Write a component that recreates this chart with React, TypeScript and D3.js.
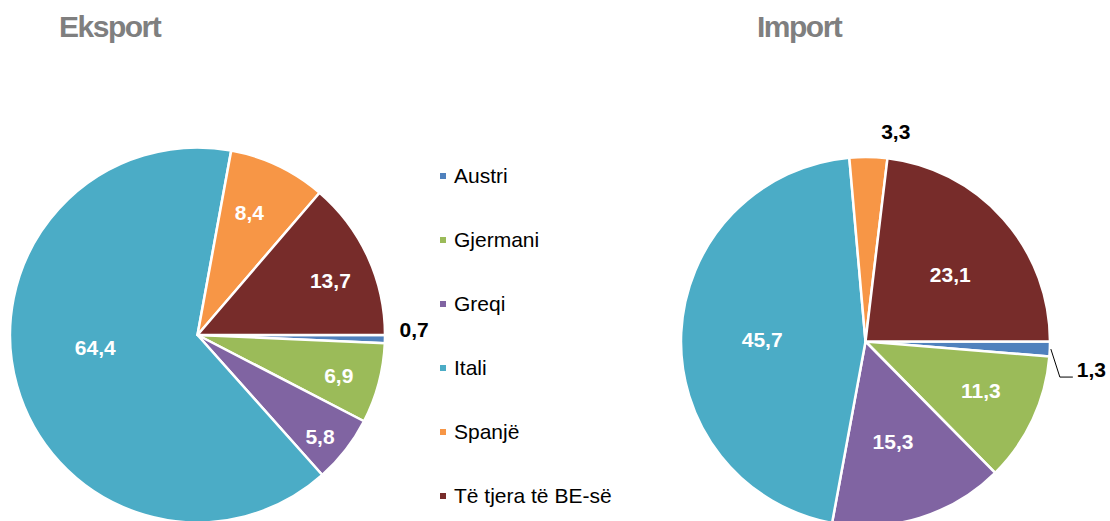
import * as d3 from 'd3';
import React from 'react';

const categories = ['Austri', 'Gjermani', 'Greqi', 'Itali', 'Spanjë', 'Të tjera të BE-së'];
const eksportValues = [0.7, 6.9, 5.8, 64.4, 8.4, 13.7];
const importValues = [1.3, 11.3, 15.3, 45.7, 3.3, 23.1];
const eksportLabels = ['0,7', '6,9', '5,8', '64,4', '8,4', '13,7'];
const importLabels = ['1,3', '11,3', '15,3', '45,7', '3,3', '23,1'];
const colors = ['#4F81BD', '#9BBB59', '#8064A2', '#4BACC6', '#F79646', '#772C2A'];

const W = 1110;
const H = 521;
const FONT = '"Liberation Sans", Arial, sans-serif';

interface PieProps {
  title: string;
  titleX: number;
  cx: number;
  cy: number;
  r: number;
  values: number[];
  labels: string[];
  labelFactor: number;
  outside: number[]; // slices whose label sits outside the pie
  leader: number; // slice with a leader line (-1 for none)
  nudges: { [i: number]: [number, number] };
}

const Pie: React.FC<PieProps> = ({ title, titleX, cx, cy, r, values, labels, labelFactor, outside, leader, nudges }) => {
  const pie = d3.pie<number>()
    .sort(null)
    .value(d => d)
    .startAngle(Math.PI / 2)
    .endAngle(Math.PI / 2 + 2 * Math.PI);
  const arcs = pie(values);
  const arc = d3.arc<d3.PieArcDatum<number>>().innerRadius(0).outerRadius(r);
  const maxVal = d3.max(values) as number;

  return (
    <g>
      <text x={titleX} y={37} fontFamily={FONT} fontWeight="bold" fontSize={30}
        letterSpacing={-1.5} fill="#7f7f7f">{title}</text>
      <g transform={`translate(${cx},${cy})`}>
        {arcs.map((a, i) => (
          <path key={i} d={arc(a) || ''} fill={colors[i]} stroke="#fff" strokeWidth={2.5} strokeLinejoin="round" />
        ))}
        {arcs.map((a, i) => {
          const mid = (a.startAngle + a.endAngle) / 2;
          const n = nudges[i] || [0, 0];
          if (i === leader) {
            const sx = Math.sin(mid) * (r + 1);
            const sy = -Math.cos(mid) * (r + 1);
            const ex = sx + 9;
            const ey = sy + 28;
            const line = d3.line()([[sx, sy], [ex, ey], [ex + 13, ey]]);
            return (
              <g key={'l' + i}>
                <path d={line || ''} fill="none" stroke="#000" strokeWidth={1} />
                <text x={ex + 17} y={ey} fontFamily={FONT} fontWeight="bold" fontSize={21}
                  fill="#000">{labels[i]}</text>
              </g>
            );
          }
          if (outside.includes(i)) {
            const lr = r * 1.14;
            return (
              <text key={'l' + i} x={Math.sin(mid) * lr + n[0]} y={-Math.cos(mid) * lr + n[1]} dy="0.35em"
                textAnchor="middle" fontFamily={FONT} fontWeight="bold" fontSize={21} fill="#000">{labels[i]}</text>
            );
          }
          const lr = r * (values[i] === maxVal ? 0.55 : labelFactor);
          return (
            <text key={'l' + i} x={Math.sin(mid) * lr + n[0]} y={-Math.cos(mid) * lr + n[1]} dy="0.35em"
              textAnchor="middle" fontFamily={FONT} fontWeight="bold" fontSize={21} fill="#fff">{labels[i]}</text>
          );
        })}
      </g>
    </g>
  );
};

const App: React.FC = () => {
  const legendY = d3.scalePoint<string>().domain(categories).range([176, 496]);
  return (
    <svg width={W} height={H} style={{ position: 'absolute', left: 0, top: 0, background: '#fff' }}>
      <Pie title="Eksport" titleX={59} cx={197.5} cy={335} r={187.5}
        values={eksportValues} labels={eksportLabels} labelFactor={0.78}
        outside={[0]} leader={-1} nudges={{ 0: [3, -10], 3: [-3, -15], 4: [-11, 10], 2: [7, 12], 5: [0, 7], 1: [0, 3] }} />
      <Pie title="Import" titleX={757} cx={865.5} cy={341.5} r={184.5}
        values={importValues} labels={importLabels} labelFactor={0.6}
        outside={[4]} leader={0} nudges={{ 4: [27, 0], 1: [15, 2], 2: [-5, -6], 5: [2, 7], 3: [-2, 3] }} />
      <g>
        {categories.map((c, i) => (
          <g key={c} transform={`translate(440,${legendY(c)})`}>
            <rect x={0} y={-3} width={6} height={6} fill={colors[i]} />
            <text x={14} y={0} dy="0.35em" fontFamily={FONT} fontSize={21} fill="#000">{c}</text>
          </g>
        ))}
      </g>
    </svg>
  );
};

export default App;
